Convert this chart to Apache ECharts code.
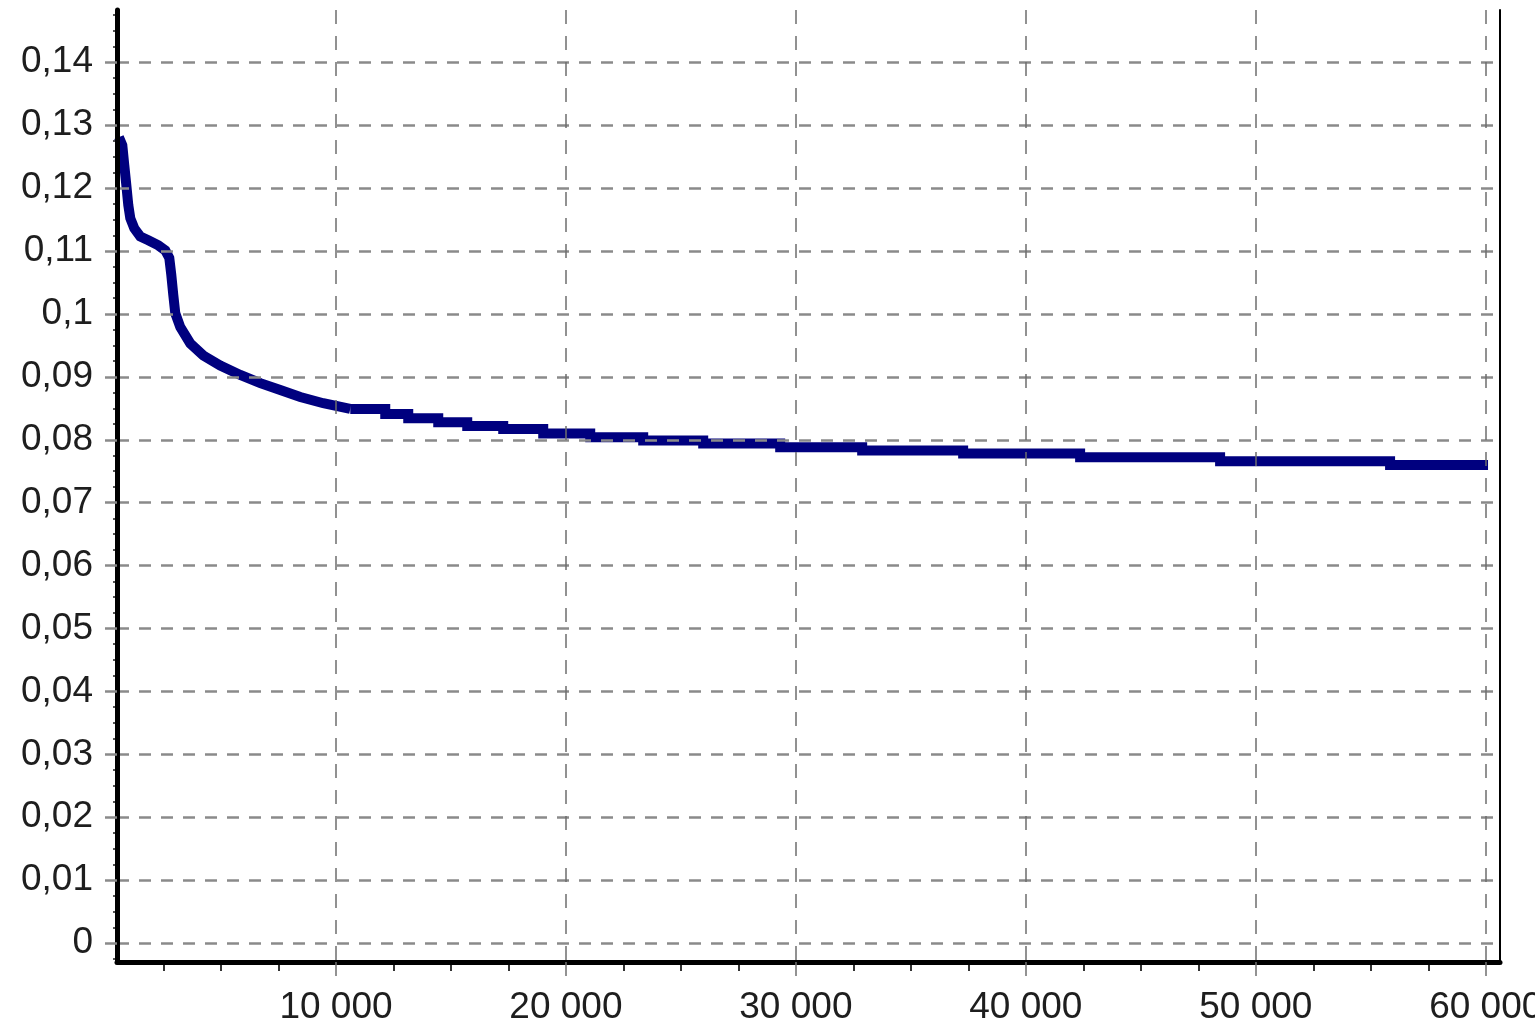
<!DOCTYPE html>
<html>
<head>
<meta charset="utf-8">
<script src="https://cdn.jsdelivr.net/npm/echarts@6/dist/echarts.min.js"></script>
<style>
html,body{margin:0;padding:0;background:#fff;overflow:hidden;}
#chart{width:1535px;height:1027px;}
</style>
</head>
<body>
<div id="chart"></div>
<script>
// Tick values
const xTicks = [10000, 20000, 30000, 40000, 50000, 60000];
const xMinorTicks = [2500, 5000, 7500, 12500, 15000, 17500, 22500, 25000, 27500, 32500, 35000, 37500, 42500, 45000, 47500, 52500, 55000, 57500];
const yTicks = [0, 0.01, 0.02, 0.03, 0.04, 0.05, 0.06, 0.07, 0.08, 0.09, 0.10, 0.11, 0.12, 0.13, 0.14];
const yMinorTicks = [-0.0025, 0.0025, 0.005, 0.0075, 0.0125, 0.015, 0.0175, 0.0225, 0.025, 0.0275, 0.0325, 0.035, 0.0375,
  0.0425, 0.045, 0.0475, 0.0525, 0.055, 0.0575, 0.0625, 0.065, 0.0675, 0.0725, 0.075, 0.0775, 0.0825, 0.085, 0.0875,
  0.0925, 0.095, 0.0975, 0.1025, 0.105, 0.1075, 0.1125, 0.115, 0.1175, 0.1225, 0.125, 0.1275, 0.1325, 0.135, 0.1375, 0.1425, 0.145, 0.1475];

// Early (curved) part of the series
const curveX = [560, 709, 796, 883, 969, 1056, 1230, 1491, 1839, 2274, 2578, 2752, 2839, 2926, 3013, 3230, 3665, 4230, 4969, 5839, 6709, 7578, 8448, 9448, 10622];
const curveY = [0.1281, 0.1268, 0.1236, 0.1205, 0.1173, 0.1152, 0.1136, 0.1123, 0.1117, 0.1109, 0.1101, 0.1089, 0.1062, 0.1030, 0.1001, 0.0979, 0.0953, 0.0934, 0.0918, 0.0903, 0.0890, 0.0879, 0.0868, 0.0858, 0.0849];

// Later (stepped) part: start of each level and its value
const stepX = [10622, 12143, 13143, 14448, 15709, 17274, 19013, 21057, 23361, 25970, 29318, 32883, 37274, 42361, 48448, 55840, 60100];
const stepY = [0.0849, 0.0841, 0.0834, 0.0828, 0.0822, 0.0817, 0.0810, 0.0804, 0.0799, 0.0794, 0.0788, 0.0783, 0.0778, 0.0772, 0.0766, 0.0760, 0.0760];

const X_MIN = 478, X_MAX = 60620;
const Y_MIN = -0.003, Y_MAX = 0.1483;

const fontStyle = {fontFamily: 'Liberation Sans, Arial, sans-serif', fontSize: 37, color: '#1e1e1e'};
const gridDash = {color: '#8a8a8a', width: 2.5, type: [12, 10]};
const vDash = {color: '#6e6e6e', width: 1.5, type: [14, 12]};

const chart = echarts.init(document.getElementById('chart'), null, {renderer: 'canvas', width: 1535, height: 1027});
chart.setOption({
  animation: false,
  backgroundColor: '#ffffff',
  grid: {left: 117, right: 35, top: 10, bottom: 65, containLabel: false, outerBoundsMode: 'none'},
  xAxis: [
    {
      type: 'value', min: X_MIN, max: X_MAX, position: 'bottom',
      axisLine: {show: true, onZero: false, lineStyle: {color: '#000', width: 5}},
      axisTick: {show: true, customValues: xTicks, length: 15, lineStyle: vDash},
      axisLabel: {show: true, customValues: xTicks, margin: 27, hideOverlap: false, ...fontStyle,
        formatter: v => String(v).replace(/\B(?=(\d{3})+(?!\d))/g, ' ')},
      splitLine: {show: true, lineStyle: vDash},
      z: 5
    },
    {
      type: 'value', min: X_MIN, max: X_MAX, position: 'bottom',
      axisLine: {show: false, onZero: false},
      axisTick: {show: true, customValues: xMinorTicks, length: 9, lineStyle: {color: '#333', width: 2}},
      axisLabel: {show: false},
      splitLine: {show: false}
    }
  ],
  yAxis: [
    {
      type: 'value', min: Y_MIN, max: Y_MAX, position: 'left',
      axisLine: {show: true, onZero: false, lineStyle: {color: '#000', width: 5}},
      axisTick: {show: true, customValues: yTicks, length: 14, lineStyle: gridDash},
      axisLabel: {show: true, customValues: yTicks, margin: 24, ...fontStyle,
        formatter: v => String(parseFloat(v.toFixed(2))).replace('.', ',')},
      splitLine: {show: true, lineStyle: gridDash},
      z: 5
    },
    {
      type: 'value', min: Y_MIN, max: Y_MAX, position: 'left',
      axisLine: {show: false, onZero: false},
      axisTick: {show: true, customValues: yMinorTicks, length: 4, lineStyle: {color: '#555', width: 2}},
      axisLabel: {show: false},
      splitLine: {show: false}
    },
    {
      type: 'value', min: Y_MIN, max: Y_MAX, position: 'right',
      axisLine: {show: true, onZero: false, lineStyle: {color: '#000', width: 2}},
      axisTick: {show: false}, axisLabel: {show: false}, splitLine: {show: false}
    }
  ],
  series: [
    {
      type: 'line', xAxisIndex: 0, yAxisIndex: 0, symbol: 'none',
      data: curveX.map((x, i) => [x, curveY[i]]),
      lineStyle: {color: '#00007f', width: 10, cap: 'butt', join: 'miter'},
      z: 3
    },
    {
      type: 'line', xAxisIndex: 0, yAxisIndex: 0, symbol: 'none', step: 'end',
      data: stepX.map((x, i) => [x, stepY[i]]),
      lineStyle: {color: '#00007f', width: 10, cap: 'butt', join: 'miter'},
      z: 3
    }
  ]
});
</script>
</body>
</html>
